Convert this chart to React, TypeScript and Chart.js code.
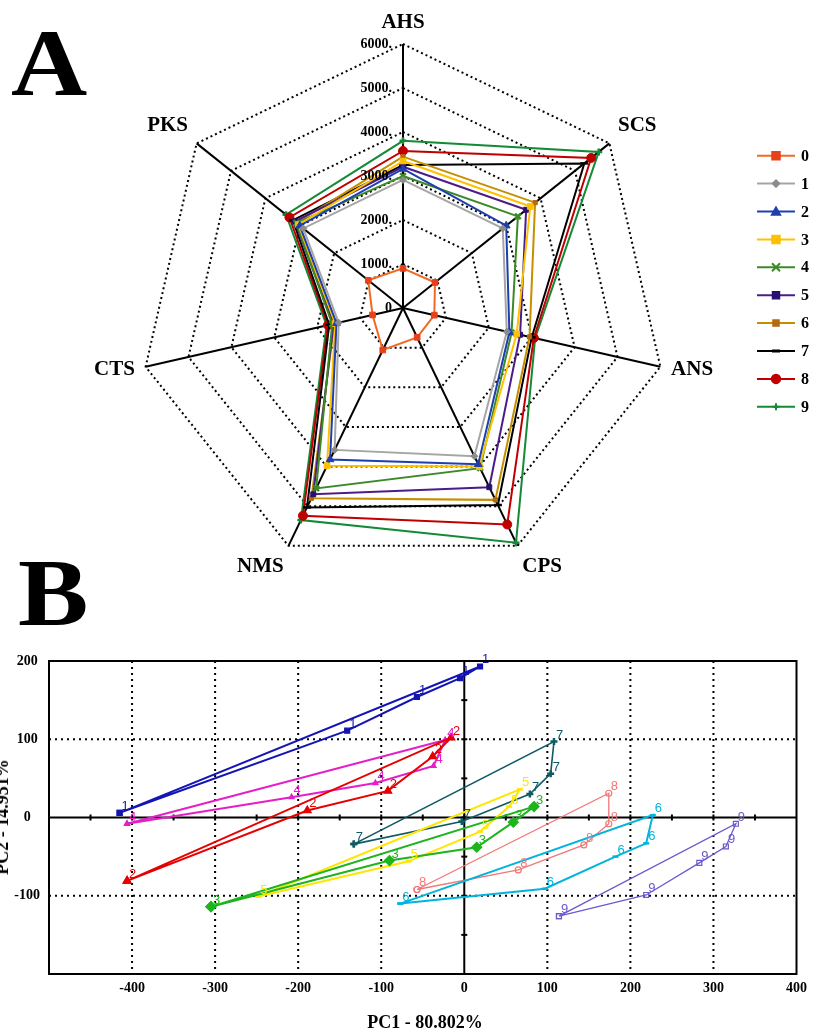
import React, { useEffect, useRef } from 'react';
import { Chart, registerables } from 'chart.js';

Chart.register(...registerables);

// ---------------- Panel A data (radar) ----------------
const radarAxes = ['AHS', 'SCS', 'ANS', 'CPS', 'NMS', 'CTS', 'PKS'];
const radarTicks = [0, 1000, 2000, 3000, 4000, 5000, 6000];
const radarGroups = ['0', '1', '2', '3', '4', '5', '6', '7', '8', '9'];
const grp0 = [900, 930, 730, 740, 1060, 710, 1010];
const grp1 = [2910, 2900, 2420, 3740, 3580, 1500, 2900];
const grp2 = [3160, 3000, 2480, 3940, 3820, 1550, 3000];
const grp3 = [3340, 3700, 2650, 4000, 3980, 1580, 3040];
const grp4 = [3000, 3340, 2530, 4040, 4550, 1650, 3100];
const grp5 = [3210, 3580, 2730, 4520, 4700, 1620, 3150];
const grp6 = [3440, 3840, 2950, 4840, 4800, 1600, 3100];
const grp7 = [3250, 5270, 3000, 4970, 5030, 1720, 3200];
const grp8 = [3570, 5470, 3050, 5460, 5240, 1750, 3300];
const grp9 = [3800, 5690, 3080, 5920, 5350, 1780, 3400];
const radarValues = [grp0, grp1, grp2, grp3, grp4, grp5, grp6, grp7, grp8, grp9];

// ---------------- Panel B data (PCA scores) ----------------
const pcSeries = ['1', '2', '3', '4', '5', '6', '7', '8', '9'];
const pc1X = [-415, -141, -57, -5, 19];
const pc1Y = [6, 111, 154, 178, 193];
const pc2X = [-406, -189, -92, -38, -16];
const pc2Y = [-81, 9, 34, 78, 102];
const pc3X = [-305, -90, 15, 59, 84];
const pc3Y = [-114, -55, -38, -6, 14];
const pc4X = [-406, -208, -107, -37, -23];
const pc4Y = [-8, 26, 44, 66, 99];
const pc5X = [-248, -67, 19, 54, 67];
const pc5Y = [-101, -56, -18, 14, 36];
const pc6X = [-77, 97, 182, 219, 227];
const pc6Y = [-110, -91, -50, -33, 3];
const pc7X = [-133, -3, 79, 104, 108];
const pc7Y = [-34, -5, 30, 56, 97];
const pc8X = [-57, 65, 144, 174, 174];
const pc8Y = [-92, -67, -35, -8, 31];
const pc9X = [114, 219, 283, 315, 327];
const pc9Y = [-126, -99, -58, -37, -8];
const pcXs = [pc1X, pc2X, pc3X, pc4X, pc5X, pc6X, pc7X, pc8X, pc9X];
const pcYs = [pc1Y, pc2Y, pc3Y, pc4Y, pc5Y, pc6Y, pc7Y, pc8Y, pc9Y];
const pcXTicks = [-400, -300, -200, -100, 0, 100, 200, 300, 400];
const pcYTicks = [-100, 0, 100, 200];

// ---------------- Styles ----------------
const SERIF = "'Liberation Serif', 'Times New Roman', serif";
const radarColors = ['#F26A21', '#A5A5A5', '#1F3FAF', '#FFC000', '#3B8A27', '#4A1C8A', '#C58F00', '#000000', '#C00000', '#138A36'];
const radarMarkerColors = ['#E8401A', '#8C8C8C', '#1F3FAF', '#FFC000', '#3B8A27', '#2A1070', '#B36A10', '#000000', '#C00000', '#138A36'];
const radarMarkers = ['rect', 'rectRot', 'triangle', 'rect', 'crossRot', 'rect', 'rect', 'line', 'circle', 'cross'];
const radarMarkerSizes = [4, 3.5, 4.5, 4, 4, 3.5, 3, 4, 4.5, 3.5];

const pcColors = ['#1414B4', '#E60000', '#1EB41E', '#E61EC8', '#FFE600', '#00B4DC', '#0F5A64', '#F07878', '#6A5ACD'];
const pcMarkers = ['rect', 'triangle', 'rectRot', 'triangle', 'line', 'line', 'cross', 'circle', 'rect'];
const pcMarkerSizes = [3.5, 4.5, 5, 3, 3, 3, 3.5, 3, 3.5];
const pcMarkerFilled = [true, true, true, true, true, true, true, false, false];
const pcLineWidths = [2, 2, 2, 2, 2, 2, 1.6, 1.3, 1.3];

function drawMarker(ctx: CanvasRenderingContext2D, style: string, x: number, y: number, r: number, color: string, filled: boolean) {
  ctx.save();
  ctx.fillStyle = color;
  ctx.strokeStyle = color;
  ctx.lineWidth = 1.5;
  ctx.setLineDash([]);
  ctx.beginPath();
  switch (style) {
    case 'rect':
      ctx.rect(x - r, y - r, 2 * r, 2 * r);
      break;
    case 'rectRot':
      ctx.moveTo(x, y - r); ctx.lineTo(x + r, y); ctx.lineTo(x, y + r); ctx.lineTo(x - r, y); ctx.closePath();
      break;
    case 'triangle':
      ctx.moveTo(x, y - r); ctx.lineTo(x + r, y + r * 0.8); ctx.lineTo(x - r, y + r * 0.8); ctx.closePath();
      break;
    case 'circle':
      ctx.arc(x, y, r, 0, Math.PI * 2);
      break;
    case 'cross':
      ctx.moveTo(x - r, y); ctx.lineTo(x + r, y); ctx.moveTo(x, y - r); ctx.lineTo(x, y + r);
      ctx.lineWidth = 2; ctx.stroke(); ctx.restore(); return;
    case 'crossRot':
      ctx.moveTo(x - r, y - r); ctx.lineTo(x + r, y + r); ctx.moveTo(x + r, y - r); ctx.lineTo(x - r, y + r);
      ctx.lineWidth = 2; ctx.stroke(); ctx.restore(); return;
    case 'line':
      ctx.moveTo(x - r, y); ctx.lineTo(x + r, y);
      ctx.lineWidth = 3; ctx.stroke(); ctx.restore(); return;
  }
  if (filled) ctx.fill();
  ctx.stroke();
  ctx.restore();
}

const radarDecor = {
  id: 'radarDecor',
  afterDraw(chart: any) {
    const ctx: CanvasRenderingContext2D = chart.ctx;
    const scale = chart.scales.r;
    ctx.save();
    // tick labels
    ctx.font = `bold 14px ${SERIF}`;
    ctx.fillStyle = '#000';
    ctx.textAlign = 'right';
    ctx.textBaseline = 'middle';
    radarTicks.forEach((v) => {
      const d = scale.getDistanceFromCenterForValue(v);
      ctx.fillText(v === 0 ? '0' : v + '.', scale.xCenter - 11, scale.yCenter - d);
    });
    // point labels
    ctx.font = `bold 21px ${SERIF}`;
    radarAxes.forEach((name, i) => {
      const p = scale.getPointPosition(i, scale.drawingArea + 11);
      const ang = (i / radarAxes.length) * Math.PI * 2;
      const s = Math.sin(ang);
      const c = Math.cos(ang);
      ctx.textAlign = Math.abs(s) < 0.1 ? 'center' : s > 0 ? 'left' : 'right';
      ctx.textBaseline = c > 0.5 ? 'bottom' : c < -0.5 ? 'top' : 'middle';
      ctx.fillText(name, p.x, p.y);
    });
    // legend
    radarGroups.forEach((name, i) => {
      const y = 155.7 + i * 27.9;
      ctx.strokeStyle = radarColors[i];
      ctx.lineWidth = 2;
      ctx.beginPath();
      ctx.moveTo(757, y);
      ctx.lineTo(795, y);
      ctx.stroke();
      drawMarker(ctx, radarMarkers[i], 776, y, radarMarkerSizes[i], radarMarkerColors[i], true);
      ctx.font = `bold 16px ${SERIF}`;
      ctx.textAlign = 'left';
      ctx.textBaseline = 'middle';
      ctx.fillStyle = '#000';
      ctx.fillText(name, 801, y + 1);
    });
    ctx.restore();
  },
};

const pcDecor = {
  id: 'pcDecor',
  beforeDatasetsDraw(chart: any) {
    const ctx: CanvasRenderingContext2D = chart.ctx;
    const a = chart.chartArea;
    const xs = chart.scales.x;
    const ys = chart.scales.y;
    const line = (x1: number, y1: number, x2: number, y2: number) => {
      ctx.beginPath(); ctx.moveTo(x1, y1); ctx.lineTo(x2, y2); ctx.stroke();
    };
    ctx.save();
    ctx.strokeStyle = '#000';
    ctx.lineWidth = 2;
    ctx.setLineDash([2, 4]);
    pcXTicks.filter((v) => v !== 0 && v < xs.max).forEach((v) => {
      const px = xs.getPixelForValue(v);
      line(px, a.top, px, a.bottom);
    });
    pcYTicks.filter((v) => v !== 0 && v < ys.max).forEach((v) => {
      const py = ys.getPixelForValue(v);
      line(a.left, py, a.right, py);
    });
    ctx.setLineDash([]);
    const x0 = xs.getPixelForValue(0);
    const y0 = ys.getPixelForValue(0);
    line(a.left, y0, a.right, y0);
    line(x0, a.top, x0, a.bottom);
    for (let v = xs.min + 50; v < xs.max; v += 50) {
      const px = xs.getPixelForValue(v);
      line(px, y0 - 3, px, y0 + 3);
    }
    for (let v = ys.min + 50; v < ys.max; v += 50) {
      const py = ys.getPixelForValue(v);
      line(x0 - 3, py, x0 + 3, py);
    }
    ctx.restore();
  },
  afterDatasetsDraw(chart: any) {
    const ctx: CanvasRenderingContext2D = chart.ctx;
    ctx.save();
    ctx.font = "13px 'Liberation Sans', Arial, sans-serif";
    ctx.textAlign = 'left';
    ctx.textBaseline = 'alphabetic';
    chart.data.datasets.forEach((ds: any, i: number) => {
      const meta = chart.getDatasetMeta(i);
      ctx.fillStyle = pcColors[i];
      for (let j = 0; j < meta.data.length - 1; j++) {
        const pt = meta.data[j];
        ctx.fillText(pcSeries[i], pt.x + 2, pt.y - 3);
      }
    });
    ctx.restore();
  },
  afterDraw(chart: any) {
    const ctx: CanvasRenderingContext2D = chart.ctx;
    const a = chart.chartArea;
    ctx.save();
    ctx.strokeStyle = '#000';
    ctx.lineWidth = 2;
    ctx.strokeRect(a.left, a.top, a.right - a.left, a.bottom - a.top);
    ctx.restore();
  },
};

function RadarPanel() {
  const ref = useRef<HTMLCanvasElement>(null);
  useEffect(() => {
    if (!ref.current) return;
    const chart = new Chart(ref.current, {
      type: 'radar',
      data: {
        labels: radarAxes,
        datasets: radarValues.map((vals, i) => ({
          label: radarGroups[i],
          data: vals,
          borderColor: radarColors[i],
          backgroundColor: radarColors[i],
          borderWidth: 2,
          fill: false,
          pointStyle: radarMarkers[i] as any,
          pointRadius: radarMarkerSizes[i],
          pointBackgroundColor: radarMarkerColors[i],
          pointBorderColor: radarMarkerColors[i],
          pointBorderWidth: radarMarkers[i] === 'cross' || radarMarkers[i] === 'crossRot' || radarMarkers[i] === 'line' ? 2.5 : 1,
        })),
      },
      options: {
        animation: false,
        responsive: false,
        layout: { padding: { left: 139, right: 146, top: 44, bottom: 28 } },
        plugins: { legend: { display: false }, tooltip: { enabled: false } },
        scales: {
          r: {
            min: 0,
            max: 6000,
            ticks: { display: false, stepSize: 1000 },
            pointLabels: { display: false },
            grid: { color: '#000', lineWidth: 2, circular: false },
            border: { dash: [2, 3] } as any,
            angleLines: { color: '#000', lineWidth: 2 },
          },
        },
      },
      plugins: [radarDecor],
    } as any);
    return () => chart.destroy();
  }, []);
  return <canvas ref={ref} width={813} height={600} style={{ position: 'absolute', left: 0, top: 0 }} />;
}

function PcaPanel() {
  const ref = useRef<HTMLCanvasElement>(null);
  useEffect(() => {
    if (!ref.current) return;
    const tickFont = { family: SERIF, size: 14, weight: 'bold' as const };
    const chart = new Chart(ref.current, {
      type: 'scatter',
      data: {
        datasets: pcSeries.map((name, i) => {
          const pts = pcXs[i].map((x, j) => ({ x, y: pcYs[i][j] }));
          pts.push({ ...pts[0] });
          return {
            label: name,
            data: pts,
            showLine: true,
            clip: false,
            borderColor: pcColors[i],
            backgroundColor: pcMarkerFilled[i] ? pcColors[i] : 'rgba(255,255,255,0)',
            borderWidth: pcLineWidths[i],
            pointStyle: pcMarkers[i] as any,
            pointRadius: pcMarkerSizes[i],
            pointBorderColor: pcColors[i],
            pointBackgroundColor: pcMarkerFilled[i] ? pcColors[i] : 'rgba(255,255,255,0)',
            pointBorderWidth: pcMarkers[i] === 'line' || pcMarkers[i] === 'cross' ? 2.5 : 1.2,
          };
        }),
      },
      options: {
        animation: false,
        responsive: false,
        layout: { padding: { left: 0, right: 15, top: 21, bottom: 0 } },
        plugins: { legend: { display: false }, tooltip: { enabled: false } },
        scales: {
          x: {
            type: 'linear',
            min: -500,
            max: 400,
            afterBuildTicks: (s: any) => { s.ticks = pcXTicks.map((v) => ({ value: v })); },
            afterFit: (s: any) => { s.height = 62; },
            grid: { display: false, drawTicks: false },
            border: { display: false },
            ticks: { font: tickFont, color: '#000', padding: 6, autoSkip: false, maxRotation: 0 },
          },
          y: {
            type: 'linear',
            min: -200,
            max: 200,
            afterBuildTicks: (s: any) => { s.ticks = pcYTicks.map((v) => ({ value: v })); },
            afterFit: (s: any) => { s.width = 49; },
            grid: { display: false, drawTicks: false },
            border: { display: false },
            ticks: { font: tickFont, color: '#000', padding: 9, crossAlign: 'center' },
          },
        },
      },
      plugins: [pcDecor],
    } as any);
    return () => chart.destroy();
  }, []);
  return <canvas ref={ref} width={813} height={396} style={{ position: 'absolute', left: 0, top: 640 }} />;
}

export default function App() {
  const letter: React.CSSProperties = {
    position: 'absolute',
    fontFamily: SERIF,
    fontWeight: 'bold',
    fontSize: 96,
    lineHeight: '96px',
    color: '#000',
    margin: 0,
    transform: 'scaleX(1.1)',
    transformOrigin: 'left top',
  };
  return (
    <div style={{ position: 'absolute', left: 0, top: 0, width: 813, height: 1036, background: '#fff', overflow: 'hidden' }}>
      <RadarPanel />
      <PcaPanel />
      <div style={{ ...letter, left: 11, top: 15 }}>A</div>
      <div style={{ ...letter, left: 18, top: 545 }}>B</div>
      <div style={{ position: 'absolute', left: 425, top: 1022, width: 0, height: 0 }}>
        <div style={{ position: 'absolute', transform: 'translate(-50%,-50%)', whiteSpace: 'nowrap', fontFamily: SERIF, fontWeight: 'bold', fontSize: 18, lineHeight: '20px' }}>
          PC1 - 80.802%
        </div>
      </div>
      <div style={{ position: 'absolute', left: 2, top: 817, width: 0, height: 0 }}>
        <div style={{ position: 'absolute', transform: 'translate(-50%,-50%) rotate(-90deg)', whiteSpace: 'nowrap', fontFamily: SERIF, fontWeight: 'bold', fontSize: 18, lineHeight: '20px' }}>
          PC2 - 14.951%
        </div>
      </div>
    </div>
  );
}
